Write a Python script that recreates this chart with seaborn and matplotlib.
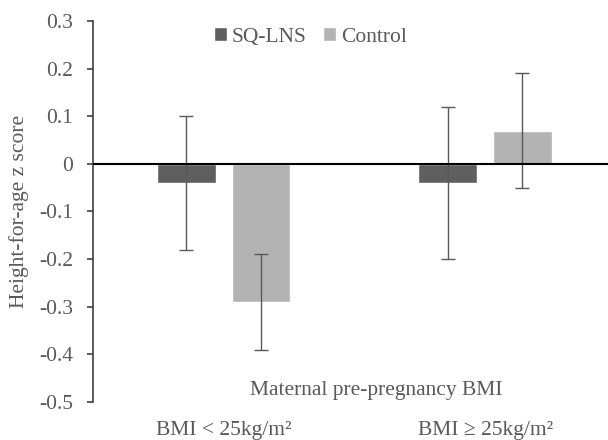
import numpy as np
import pandas as pd
import matplotlib
matplotlib.use("Agg")
import matplotlib.pyplot as plt
import seaborn as sns

# Height-for-age z score by maternal pre-pregnancy BMI and arm
groups = ["BMI < 25kg/m²", "BMI ≥ 25kg/m²"]
arms = ["SQ-LNS", "Control"]
sqlns_mean = [-0.04, -0.04]
sqlns_low = [-0.18, -0.20]
sqlns_high = [0.10, 0.12]
control_mean = [-0.29, 0.07]
control_low = [-0.39, -0.05]
control_high = [-0.19, 0.19]
yticks = [0.3, 0.2, 0.1, 0, -0.1, -0.2, -0.3, -0.4, -0.5]

df = pd.DataFrame({
    "group": groups * 2,
    "arm": [arms[0]] * 2 + [arms[1]] * 2,
    "mean": sqlns_mean + control_mean,
    "low": sqlns_low + control_low,
    "high": sqlns_high + control_high,
})

sns.set_style("white")
plt.rcParams["font.family"] = ["Liberation Serif", "DejaVu Serif"]
grey = "#595959"
fs = 15.5

fig = plt.figure(figsize=(6.08, 4.4), dpi=100)
ax = fig.add_axes([93 / 608, 38 / 440, 515 / 608, 381 / 440])

sns.barplot(data=df, x="group", y="mean", hue="arm", order=groups,
            hue_order=arms, palette=["#5f5f5f", "#b3b3b3"], width=0.57,
            gap=0.21, errorbar=None, ax=ax, legend=True)

# error bars placed on bar centres
for bar, (_, row) in zip(ax.patches, df.iterrows()):
    xc = bar.get_x() + bar.get_width() / 2
    ax.errorbar(xc, row["mean"],
                yerr=[[row["mean"] - row["low"]], [row["high"] - row["mean"]]],
                fmt="none", ecolor=grey, elinewidth=1, capsize=5, capthick=1)

ax.axhline(0, color="black", lw=1.5, zorder=3)
ax.set_xlim(-0.5, 1.47)
ax.set_ylim(-0.5, 0.3)
ax.set_yticks(yticks)
ax.set_yticklabels([f"{v:g}" for v in yticks])
for s in ["top", "right", "bottom"]:
    ax.spines[s].set_visible(False)
ax.spines["left"].set_color("#404040")
ax.spines["left"].set_linewidth(1.2)
ax.tick_params(axis="y", direction="out", length=4.5, width=1.2, color="#404040",
               labelsize=fs, labelcolor=grey, pad=10, left=True)
ax.tick_params(axis="x", length=0, pad=14, labelsize=fs, labelcolor=grey)

ax.set_xlabel("")
ax.set_ylabel("Height-for-age z score", fontsize=fs, color=grey)
ax.yaxis.set_label_coords(-64 / 515, 0.5)
fig.text(376 / 608, 1 - 390 / 440, "Maternal pre-pregnancy BMI",
         ha="center", va="center", fontsize=fs, color=grey)

leg = ax.legend(loc="center", bbox_to_anchor=(0.422, 0.958), ncol=2,
                frameon=False, handlelength=0.6, handleheight=0.6,
                handletextpad=0.2, columnspacing=0.8, fontsize=fs)
for t in leg.get_texts():
    t.set_color(grey)

fig.savefig("out.png", dpi=100)
